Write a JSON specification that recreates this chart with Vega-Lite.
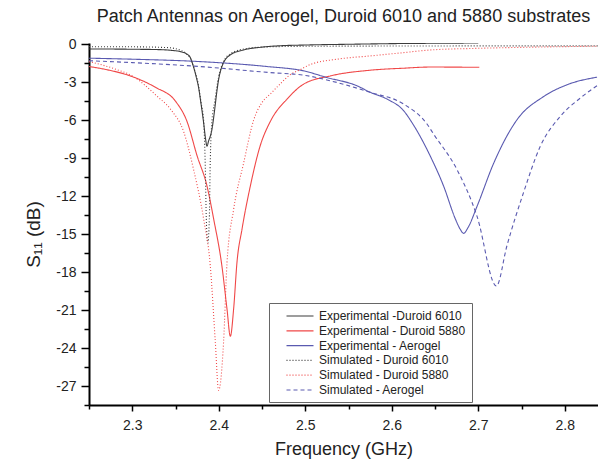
{
  "$schema": "https://vega.github.io/schema/vega-lite/v6.json",
  "autosize": {"type": "none"},
  "width": 509,
  "height": 362,
  "padding": {"left": 89, "top": 43, "right": 0, "bottom": 54},
  "background": "white",
  "title": {"text": "Patch Antennas on Aerogel, Duroid 6010 and 5880 substrates", "fontSize": 18, "fontWeight": "normal", "font": "Liberation Sans", "color": "#222", "offset": 11, "anchor": "middle"},
  "config": {"view": {"stroke": null}, "font": "Liberation Sans"},
  "data": {"values": [
    {"s": "Experimental -Duroid 6010", "f": 2.25, "v": -0.37},
    {"s": "Experimental -Duroid 6010", "f": 2.28, "v": -0.38},
    {"s": "Experimental -Duroid 6010", "f": 2.31, "v": -0.4},
    {"s": "Experimental -Duroid 6010", "f": 2.33, "v": -0.42},
    {"s": "Experimental -Duroid 6010", "f": 2.345, "v": -0.48},
    {"s": "Experimental -Duroid 6010", "f": 2.3556, "v": -0.58},
    {"s": "Experimental -Duroid 6010", "f": 2.3625, "v": -0.75},
    {"s": "Experimental -Duroid 6010", "f": 2.3671, "v": -1.05},
    {"s": "Experimental -Duroid 6010", "f": 2.3709, "v": -1.8},
    {"s": "Experimental -Duroid 6010", "f": 2.374, "v": -2.6},
    {"s": "Experimental -Duroid 6010", "f": 2.3764, "v": -3.3},
    {"s": "Experimental -Duroid 6010", "f": 2.3795, "v": -4.7},
    {"s": "Experimental -Duroid 6010", "f": 2.3825, "v": -6.2},
    {"s": "Experimental -Duroid 6010", "f": 2.3848, "v": -7.5},
    {"s": "Experimental -Duroid 6010", "f": 2.3864, "v": -8.06},
    {"s": "Experimental -Duroid 6010", "f": 2.388, "v": -7.7},
    {"s": "Experimental -Duroid 6010", "f": 2.3922, "v": -6.7},
    {"s": "Experimental -Duroid 6010", "f": 2.3952, "v": -5.2},
    {"s": "Experimental -Duroid 6010", "f": 2.3975, "v": -3.9},
    {"s": "Experimental -Duroid 6010", "f": 2.3998, "v": -2.8},
    {"s": "Experimental -Duroid 6010", "f": 2.4025, "v": -2.0},
    {"s": "Experimental -Duroid 6010", "f": 2.4056, "v": -1.45},
    {"s": "Experimental -Duroid 6010", "f": 2.4134, "v": -0.84},
    {"s": "Experimental -Duroid 6010", "f": 2.4287, "v": -0.45},
    {"s": "Experimental -Duroid 6010", "f": 2.448, "v": -0.24},
    {"s": "Experimental -Duroid 6010", "f": 2.4673, "v": -0.13},
    {"s": "Experimental -Duroid 6010", "f": 2.5, "v": -0.06},
    {"s": "Experimental -Duroid 6010", "f": 2.55, "v": 0.0},
    {"s": "Experimental -Duroid 6010", "f": 2.6, "v": 0.05},
    {"s": "Experimental -Duroid 6010", "f": 2.65, "v": 0.08},
    {"s": "Experimental -Duroid 6010", "f": 2.7, "v": 0.1},

    {"s": "Experimental - Duroid 5880", "f": 2.25, "v": -1.76},
    {"s": "Experimental - Duroid 5880", "f": 2.27, "v": -2.0},
    {"s": "Experimental - Duroid 5880", "f": 2.2977, "v": -2.5},
    {"s": "Experimental - Duroid 5880", "f": 2.3267, "v": -3.4},
    {"s": "Experimental - Duroid 5880", "f": 2.35, "v": -4.5},
    {"s": "Experimental - Duroid 5880", "f": 2.3633, "v": -6.1},
    {"s": "Experimental - Duroid 5880", "f": 2.3749, "v": -8.8},
    {"s": "Experimental - Duroid 5880", "f": 2.3864, "v": -11.2},
    {"s": "Experimental - Duroid 5880", "f": 2.3941, "v": -13.8},
    {"s": "Experimental - Duroid 5880", "f": 2.4038, "v": -17.6},
    {"s": "Experimental - Duroid 5880", "f": 2.4095, "v": -20.9},
    {"s": "Experimental - Duroid 5880", "f": 2.4134, "v": -23.07},
    {"s": "Experimental - Duroid 5880", "f": 2.4172, "v": -20.9},
    {"s": "Experimental - Duroid 5880", "f": 2.4211, "v": -17.2},
    {"s": "Experimental - Duroid 5880", "f": 2.4269, "v": -14.6},
    {"s": "Experimental - Duroid 5880", "f": 2.4365, "v": -11.2},
    {"s": "Experimental - Duroid 5880", "f": 2.448, "v": -8.0},
    {"s": "Experimental - Duroid 5880", "f": 2.4596, "v": -6.1},
    {"s": "Experimental - Duroid 5880", "f": 2.4789, "v": -4.33},
    {"s": "Experimental - Duroid 5880", "f": 2.4981, "v": -3.15},
    {"s": "Experimental - Duroid 5880", "f": 2.529, "v": -2.5},
    {"s": "Experimental - Duroid 5880", "f": 2.5752, "v": -2.05},
    {"s": "Experimental - Duroid 5880", "f": 2.6137, "v": -1.89},
    {"s": "Experimental - Duroid 5880", "f": 2.6446, "v": -1.8},
    {"s": "Experimental - Duroid 5880", "f": 2.7012, "v": -1.82},

    {"s": "Experimental - Aerogel", "f": 2.25, "v": -1.1},
    {"s": "Experimental - Aerogel", "f": 2.3, "v": -1.18},
    {"s": "Experimental - Aerogel", "f": 2.3787, "v": -1.37},
    {"s": "Experimental - Aerogel", "f": 2.4561, "v": -1.76},
    {"s": "Experimental - Aerogel", "f": 2.4981, "v": -2.1},
    {"s": "Experimental - Aerogel", "f": 2.5251, "v": -2.63},
    {"s": "Experimental - Aerogel", "f": 2.5598, "v": -3.28},
    {"s": "Experimental - Aerogel", "f": 2.5752, "v": -3.8},
    {"s": "Experimental - Aerogel", "f": 2.5945, "v": -4.33},
    {"s": "Experimental - Aerogel", "f": 2.6137, "v": -5.25},
    {"s": "Experimental - Aerogel", "f": 2.6253, "v": -6.4},
    {"s": "Experimental - Aerogel", "f": 2.6446, "v": -8.85},
    {"s": "Experimental - Aerogel", "f": 2.6599, "v": -11.2},
    {"s": "Experimental - Aerogel", "f": 2.6735, "v": -13.8},
    {"s": "Experimental - Aerogel", "f": 2.679, "v": -14.6},
    {"s": "Experimental - Aerogel", "f": 2.6831, "v": -14.94},
    {"s": "Experimental - Aerogel", "f": 2.688, "v": -14.5},
    {"s": "Experimental - Aerogel", "f": 2.6986, "v": -12.8},
    {"s": "Experimental - Aerogel", "f": 2.7178, "v": -9.4},
    {"s": "Experimental - Aerogel", "f": 2.7448, "v": -5.96},
    {"s": "Experimental - Aerogel", "f": 2.7756, "v": -4.13},
    {"s": "Experimental - Aerogel", "f": 2.8026, "v": -3.2},
    {"s": "Experimental - Aerogel", "f": 2.8373, "v": -2.6},

    {"s": "Simulated - Duroid 6010", "f": 2.25, "v": -0.19},
    {"s": "Simulated - Duroid 6010", "f": 2.3, "v": -0.2},
    {"s": "Simulated - Duroid 6010", "f": 2.34, "v": -0.26},
    {"s": "Simulated - Duroid 6010", "f": 2.355, "v": -0.45},
    {"s": "Simulated - Duroid 6010", "f": 2.3625, "v": -0.75},
    {"s": "Simulated - Duroid 6010", "f": 2.367, "v": -1.1},
    {"s": "Simulated - Duroid 6010", "f": 2.3709, "v": -1.8},
    {"s": "Simulated - Duroid 6010", "f": 2.3764, "v": -3.2},
    {"s": "Simulated - Duroid 6010", "f": 2.3795, "v": -4.6},
    {"s": "Simulated - Duroid 6010", "f": 2.3825, "v": -6.0},
    {"s": "Simulated - Duroid 6010", "f": 2.3845, "v": -9.9},
    {"s": "Simulated - Duroid 6010", "f": 2.3856, "v": -13.8},
    {"s": "Simulated - Duroid 6010", "f": 2.3873, "v": -15.7},
    {"s": "Simulated - Duroid 6010", "f": 2.3891, "v": -13.8},
    {"s": "Simulated - Duroid 6010", "f": 2.39, "v": -9.9},
    {"s": "Simulated - Duroid 6010", "f": 2.3922, "v": -6.0},
    {"s": "Simulated - Duroid 6010", "f": 2.3952, "v": -4.6},
    {"s": "Simulated - Duroid 6010", "f": 2.3998, "v": -2.6},
    {"s": "Simulated - Duroid 6010", "f": 2.4056, "v": -1.35},
    {"s": "Simulated - Duroid 6010", "f": 2.4134, "v": -0.75},
    {"s": "Simulated - Duroid 6010", "f": 2.4287, "v": -0.38},
    {"s": "Simulated - Duroid 6010", "f": 2.45, "v": -0.22},
    {"s": "Simulated - Duroid 6010", "f": 2.5, "v": -0.16},
    {"s": "Simulated - Duroid 6010", "f": 2.6, "v": -0.14},
    {"s": "Simulated - Duroid 6010", "f": 2.7, "v": -0.13},
    {"s": "Simulated - Duroid 6010", "f": 2.84, "v": -0.13},

    {"s": "Simulated - Duroid 5880", "f": 2.25, "v": -1.37},
    {"s": "Simulated - Duroid 5880", "f": 2.28, "v": -1.95},
    {"s": "Simulated - Duroid 5880", "f": 2.3, "v": -2.5},
    {"s": "Simulated - Duroid 5880", "f": 2.3286, "v": -4.1},
    {"s": "Simulated - Duroid 5880", "f": 2.345, "v": -5.2},
    {"s": "Simulated - Duroid 5880", "f": 2.3594, "v": -6.9},
    {"s": "Simulated - Duroid 5880", "f": 2.3709, "v": -9.9},
    {"s": "Simulated - Duroid 5880", "f": 2.3825, "v": -13.8},
    {"s": "Simulated - Duroid 5880", "f": 2.3902, "v": -17.5},
    {"s": "Simulated - Duroid 5880", "f": 2.396, "v": -23.5},
    {"s": "Simulated - Duroid 5880", "f": 2.3998, "v": -27.35},
    {"s": "Simulated - Duroid 5880", "f": 2.4056, "v": -23.5},
    {"s": "Simulated - Duroid 5880", "f": 2.4095, "v": -17.3},
    {"s": "Simulated - Duroid 5880", "f": 2.4172, "v": -13.05},
    {"s": "Simulated - Duroid 5880", "f": 2.4287, "v": -9.4},
    {"s": "Simulated - Duroid 5880", "f": 2.4403, "v": -6.0},
    {"s": "Simulated - Duroid 5880", "f": 2.45, "v": -4.6},
    {"s": "Simulated - Duroid 5880", "f": 2.46, "v": -3.9},
    {"s": "Simulated - Duroid 5880", "f": 2.47, "v": -3.2},
    {"s": "Simulated - Duroid 5880", "f": 2.4827, "v": -2.4},
    {"s": "Simulated - Duroid 5880", "f": 2.4943, "v": -2.0},
    {"s": "Simulated - Duroid 5880", "f": 2.5058, "v": -1.6},
    {"s": "Simulated - Duroid 5880", "f": 2.5367, "v": -1.18},
    {"s": "Simulated - Duroid 5880", "f": 2.5752, "v": -0.92},
    {"s": "Simulated - Duroid 5880", "f": 2.6137, "v": -0.66},
    {"s": "Simulated - Duroid 5880", "f": 2.6446, "v": -0.45},
    {"s": "Simulated - Duroid 5880", "f": 2.7, "v": -0.32},
    {"s": "Simulated - Duroid 5880", "f": 2.77, "v": -0.22},
    {"s": "Simulated - Duroid 5880", "f": 2.84, "v": -0.15},

    {"s": "Simulated - Aerogel", "f": 2.25, "v": -1.3},
    {"s": "Simulated - Aerogel", "f": 2.3, "v": -1.45},
    {"s": "Simulated - Aerogel", "f": 2.3787, "v": -1.76},
    {"s": "Simulated - Aerogel", "f": 2.4596, "v": -2.24},
    {"s": "Simulated - Aerogel", "f": 2.4981, "v": -2.44},
    {"s": "Simulated - Aerogel", "f": 2.5367, "v": -3.02},
    {"s": "Simulated - Aerogel", "f": 2.5752, "v": -3.8},
    {"s": "Simulated - Aerogel", "f": 2.6137, "v": -4.72},
    {"s": "Simulated - Aerogel", "f": 2.6407, "v": -6.3},
    {"s": "Simulated - Aerogel", "f": 2.6484, "v": -7.1},
    {"s": "Simulated - Aerogel", "f": 2.6754, "v": -9.9},
    {"s": "Simulated - Aerogel", "f": 2.6986, "v": -13.6},
    {"s": "Simulated - Aerogel", "f": 2.7209, "v": -19.1},
    {"s": "Simulated - Aerogel", "f": 2.7332, "v": -15.9},
    {"s": "Simulated - Aerogel", "f": 2.7524, "v": -11.7},
    {"s": "Simulated - Aerogel", "f": 2.7717, "v": -8.06},
    {"s": "Simulated - Aerogel", "f": 2.7948, "v": -5.7},
    {"s": "Simulated - Aerogel", "f": 2.8179, "v": -4.25},
    {"s": "Simulated - Aerogel", "f": 2.8388, "v": -3.2}
  ]},
  "mark": {"type": "line", "strokeWidth": 1.1, "interpolate": "monotone", "clip": true},
  "encoding": {
    "x": {
      "field": "f", "type": "quantitative",
      "scale": {"domain": [2.25, 2.8384], "nice": false, "zero": false},
      "axis": {
        "title": "Frequency (GHz)",
        "values": [2.25, 2.3, 2.35, 2.4, 2.45, 2.5, 2.55, 2.6, 2.65, 2.7, 2.75, 2.8],
        "labelExpr": "round(datum.value*100) % 10 == 0 ? format(datum.value, '.1f') : ''",
        "tickSize": {"condition": {"test": "round(datum.value*100) % 10 == 0", "value": 6}, "value": 4},
        "grid": false,
        "domainColor": "black", "domainWidth": 2, "tickColor": "black", "tickWidth": 1.5,
        "labelFontSize": 14, "labelColor": "#222", "labelPadding": 7,
        "titleFontSize": 18, "titleFontWeight": "normal", "titleColor": "#222", "titlePadding": 8
      }
    },
    "y": {
      "field": "v", "type": "quantitative",
      "scale": {"domain": [-28.5, 0.1], "nice": false, "zero": false},
      "axis": {
        "title": "S₁₁ (dB)",
        "values": [0, -1.5, -3, -4.5, -6, -7.5, -9, -10.5, -12, -13.5, -15, -16.5, -18, -19.5, -21, -22.5, -24, -25.5, -27, -28.5],
        "labelExpr": "datum.value % 3 == 0 ? '' + datum.value : ''",
        "tickSize": {"condition": {"test": "datum.value % 3 == 0", "value": 8}, "value": 5},
        "grid": false,
        "domainColor": "black", "domainWidth": 2, "tickColor": "black", "tickWidth": 1.5,
        "labelFontSize": 14, "labelColor": "#222", "labelPadding": 5,
        "titleFontSize": 19, "titleFontWeight": "normal", "titleColor": "#222", "titlePadding": 12, "titleY": 191
      }
    },
    "color": {
      "field": "s", "type": "nominal",
      "scale": {
        "domain": ["Experimental -Duroid 6010", "Experimental - Duroid 5880", "Experimental - Aerogel", "Simulated - Duroid 6010", "Simulated - Duroid 5880", "Simulated - Aerogel"],
        "range": ["#3c3c3c", "#f04848", "#5a5ab0", "#3c3c3c", "#f04848", "#5a5ab0"]
      },
      "legend": {
        "title": null, "orient": "none", "legendX": 180, "legendY": 260,
        "strokeColor": "#666", "fillColor": "white", "padding": 6,
        "symbolType": "M-2.25,0H2.25", "symbolSize": 144, "symbolStrokeWidth": 1.2, "symbolOffset": 18,
        "labelFontSize": 12, "labelColor": "#222", "labelOffset": 12, "rowPadding": 1.8
      }
    },
    "strokeDash": {
      "field": "s", "type": "nominal",
      "scale": {
        "domain": ["Experimental -Duroid 6010", "Experimental - Duroid 5880", "Experimental - Aerogel", "Simulated - Duroid 6010", "Simulated - Duroid 5880", "Simulated - Aerogel"],
        "range": [[1, 0], [1, 0], [1, 0], [1, 2], [1, 2], [4, 3]]
      },
      "legend": {"title": null}
    }
  }
}
